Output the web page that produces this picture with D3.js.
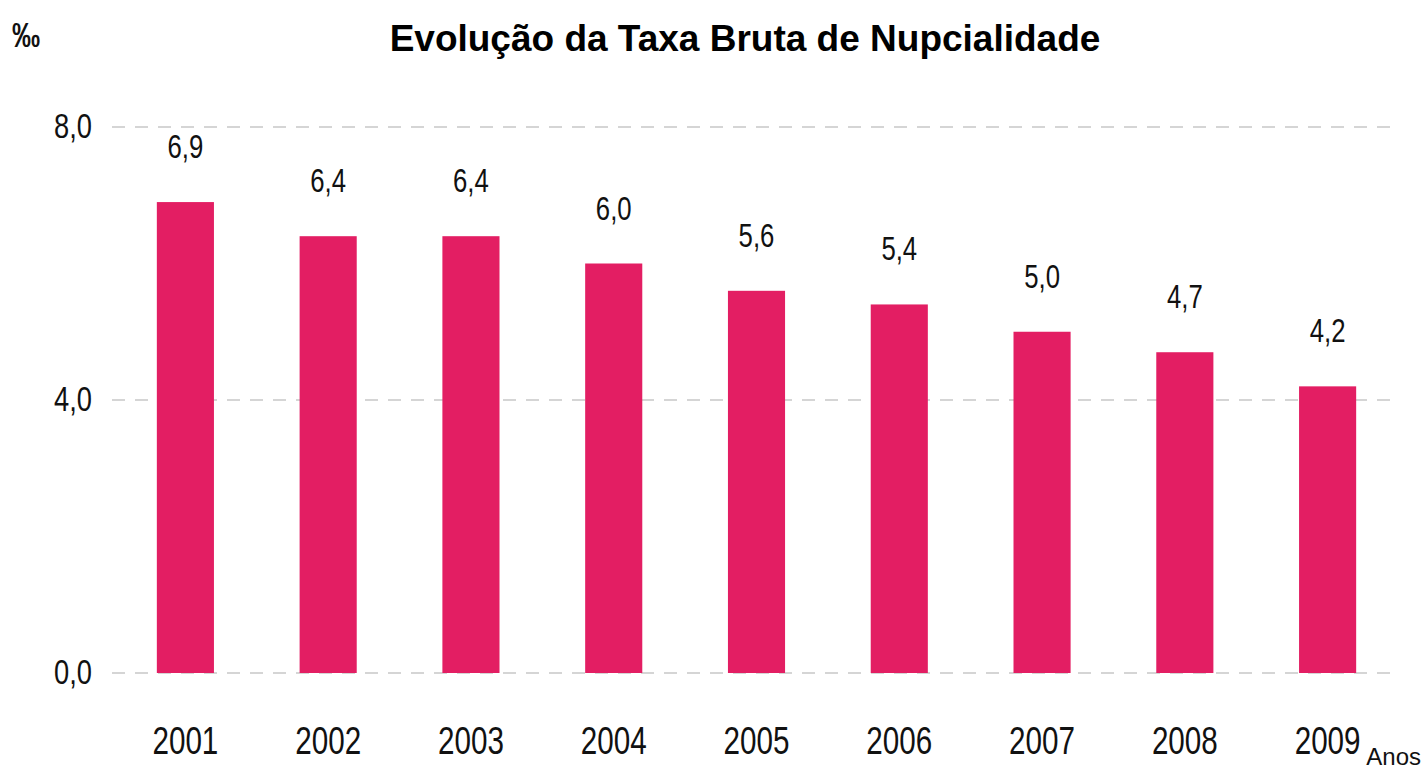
<!DOCTYPE html>
<html>
<head>
<meta charset="utf-8">
<script src="https://cdn.jsdelivr.net/npm/d3@7"></script>
<style>
  body { margin: 0; background: #fff; }
  text { font-family: "Liberation Sans", Arial, sans-serif; }
</style>
</head>
<body>
<div id="chart"></div>
<script>
// Data
var years = ["2001", "2002", "2003", "2004", "2005", "2006", "2007", "2008", "2009"];
var rates = [6.9, 6.4, 6.4, 6.0, 5.6, 5.4, 5.0, 4.7, 4.2];
var yTicks = [0, 4, 8];

var W = 1427, H = 771;
var SX = 0.78; // squeeze Liberation Sans into an Arial Narrow look
var fmt = function(v) { return d3.format(".1f")(v).replace(".", ","); };
var narrow = function(px, py) { return "translate(" + px + "," + py + ") scale(" + SX + ",1)"; };

var svg = d3.select("#chart")
  .append("svg")
  .attr("width", W)
  .attr("height", H);

// Scales
var x = d3.scaleBand()
  .domain(years)
  .range([114, 1399])
  .paddingInner(0.6)
  .paddingOuter(0.3);

var y = d3.scaleLinear()
  .domain([0, 8])
  .range([673, 127]);

// Gridlines
svg.selectAll("line.grid")
  .data(yTicks)
  .enter()
  .append("line")
  .attr("class", "grid")
  .attr("x1", 112)
  .attr("x2", 1397)
  .attr("y1", function(d) { return y(d); })
  .attr("y2", function(d) { return y(d); })
  .attr("stroke", "#c8c8c8")
  .attr("stroke-width", 1.5)
  .attr("stroke-dasharray", "13,10");

// Y tick labels
svg.selectAll("text.ytick")
  .data(yTicks)
  .enter()
  .append("text")
  .attr("class", "ytick")
  .attr("transform", function(d) { return narrow(92, y(d) + 11); })
  .attr("text-anchor", "end")
  .style("font-size", "35px")
  .style("fill", "#111")
  .text(function(d) { return fmt(d); });

// Bars
svg.selectAll("rect.bar")
  .data(rates)
  .enter()
  .append("rect")
  .attr("class", "bar")
  .attr("x", function(d, i) { return x(years[i]); })
  .attr("y", function(d) { return y(d); })
  .attr("width", x.bandwidth())
  .attr("height", function(d) { return y(0) - y(d); })
  .attr("fill", "#e31e63");

// Value labels
svg.selectAll("text.val")
  .data(rates)
  .enter()
  .append("text")
  .attr("class", "val")
  .attr("transform", function(d, i) { return narrow(x(years[i]) + x.bandwidth() / 2, y(d) - 44); })
  .attr("text-anchor", "middle")
  .style("font-size", "33px")
  .style("fill", "#111")
  .text(function(d) { return fmt(d); });

// X labels
svg.selectAll("text.xlab")
  .data(years)
  .enter()
  .append("text")
  .attr("class", "xlab")
  .attr("transform", function(d) { return narrow(x(d) + x.bandwidth() / 2, 754); })
  .attr("text-anchor", "middle")
  .style("font-size", "38px")
  .style("fill", "#111")
  .text(function(d) { return d; });

// Title
svg.append("text")
  .attr("x", 745)
  .attr("y", 51)
  .attr("text-anchor", "middle")
  .style("font-weight", "bold")
  .style("font-size", "37px")
  .style("fill", "#000")
  .text("Evolução da Taxa Bruta de Nupcialidade");

// Unit
svg.append("text")
  .attr("transform", narrow(12, 47))
  .style("font-size", "36px")
  .style("font-weight", "bold")
  .style("fill", "#111")
  .text("‰");

// Axis name
svg.append("text")
  .attr("x", 1421)
  .attr("y", 765)
  .attr("text-anchor", "end")
  .style("font-size", "24px")
  .style("fill", "#111")
  .text("Anos");
</script>
</body>
</html>
